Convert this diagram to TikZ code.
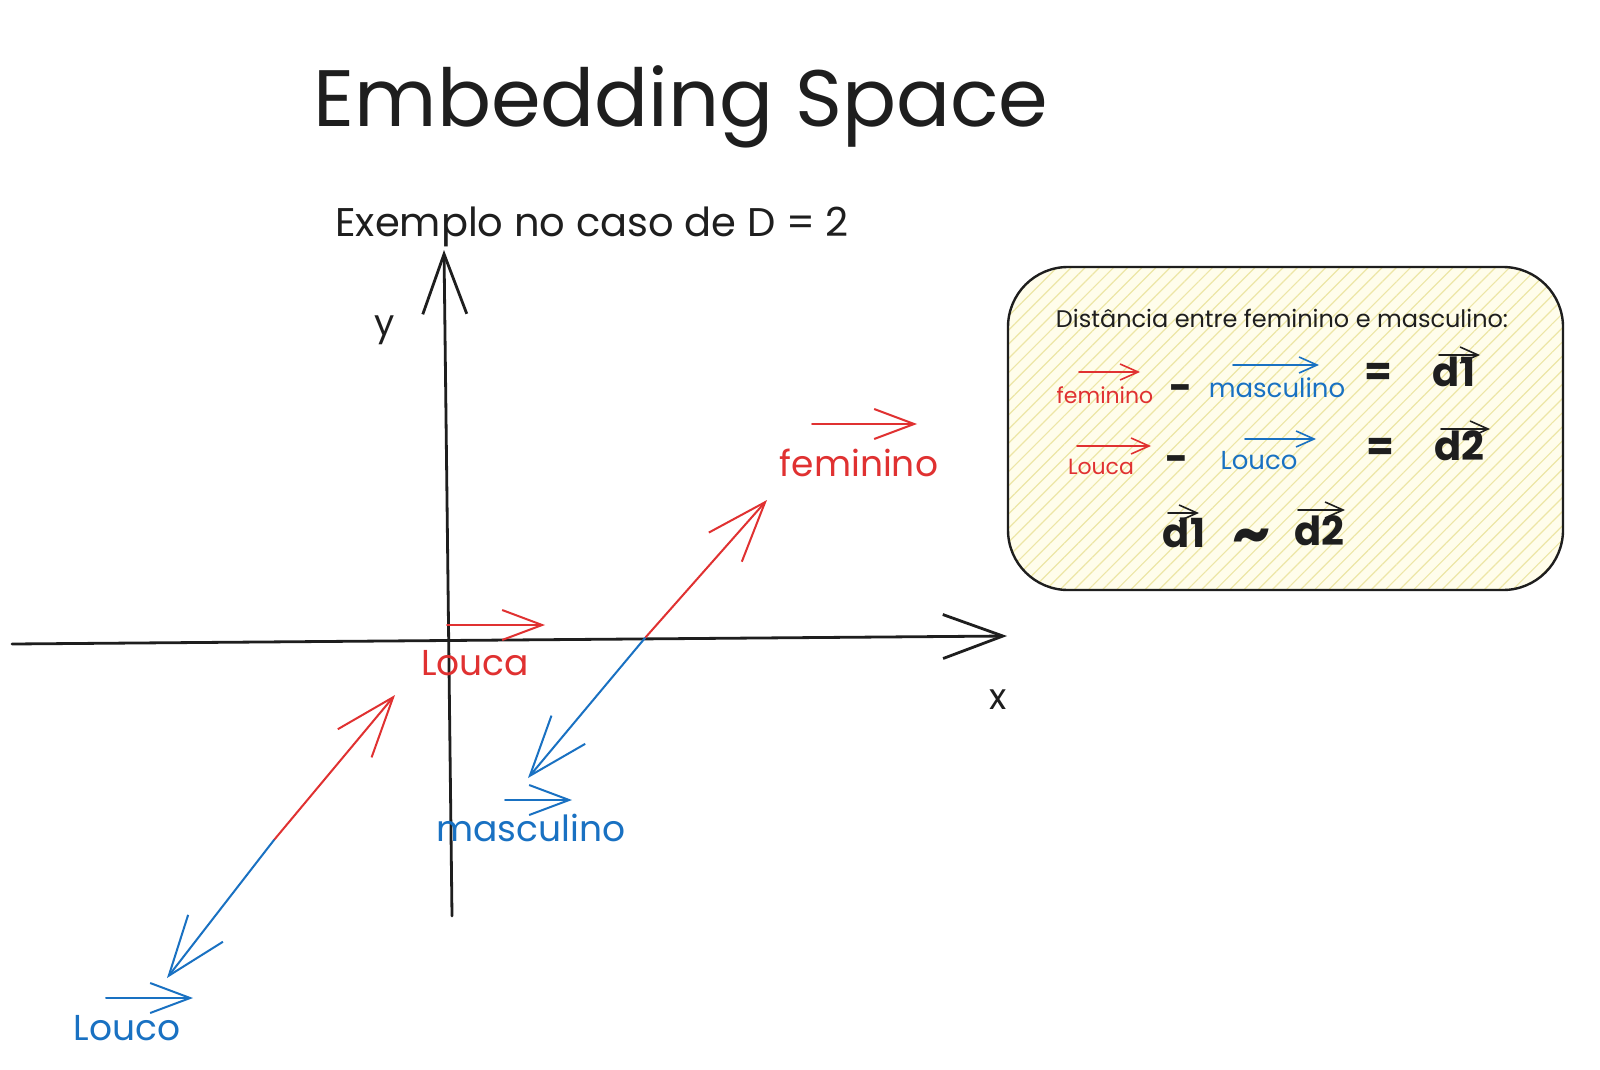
\documentclass[tikz,border=0pt]{standalone}
\usepackage{fontspec}
\setmainfont{Poppins}
\usetikzlibrary{arrows.meta, positioning, calc, patterns.meta}
\definecolor{exred}{HTML}{E03131}
\definecolor{exblue}{HTML}{1971C2}
\definecolor{exink}{HTML}{1E1E1E}
\definecolor{exfill}{HTML}{FFFDEB}
\definecolor{exhatch}{HTML}{EDE6A6}
\tikzset{
  >=Stealth,
  title/.style   = {font=\fontsize{40}{44}\selectfont, text=exink},
  subtitle/.style= {font=\fontsize{20}{24}\selectfont, text=exink},
  axlbl/.style   = {font=\fontsize{18}{20}\selectfont, text=exink},
  redlbl/.style  = {font=\fontsize{18}{20}\selectfont, text=exred},
  bluelbl/.style = {font=\fontsize{18}{20}\selectfont, text=exblue},
  smallred/.style  = {font=\fontsize{11}{13}\selectfont, text=exred},
  smallblue/.style = {font=\fontsize{13}{15}\selectfont, text=exblue},
  head/.style    = {font=\fontsize{12}{14}\selectfont, text=exink},
  sym/.style     = {font=\bfseries\fontsize{20}{22}\selectfont, text=exink},
  note/.style    = {draw=exink, line width=1.2pt, rounded corners=30pt,
                    minimum width=277.5pt, minimum height=161.5pt,
                    preaction={fill=exfill},
                    pattern={Lines[angle=45, distance=5pt, line width=0.6pt]},
                    pattern color=exhatch},
  axis/.style    = {exink, line width=1.4pt, line cap=round,
                    -{Straight Barb[length=30pt, width=22pt]}},
  redvec/.style  = {exred, line width=1pt, line cap=round,
                    -{Straight Barb[length=30pt, width=22pt]}},
  bluevec/.style = {exblue, line width=1pt, line cap=round,
                    -{Straight Barb[length=30pt, width=22pt]}},
  over/.style    = {line width=1pt, line cap=round,
                    -{Straight Barb[length=20pt, width=15pt]}},
  overs/.style   = {line width=0.8pt, line cap=round,
                    -{Straight Barb[length=9pt, width=8pt]}},
}
\begin{document}
\begin{tikzpicture}[x=0.5pt, y=-0.5pt,
  every node/.style = {inner sep=0pt}]
  \useasboundingbox[fill=white] (0,0) rectangle (1600,1070);

  % Titles
  \node[title]    (ttl) at (681,107) {Embedding Space};
  \node[subtitle] (sub) at (592,227) {Exemplo no caso de D = 2};

  % Axes
  \coordinate (xl) at (12,644);
  \coordinate (xr) at (1007,636);
  \coordinate (yb) at (452,916);
  \coordinate (yt) at (444,250);
  \draw[axis] (xl) -- (xr);
  \draw[axis] (yb) -- (yt);
  \node[axlbl] (ylbl) at (385,330) {y};
  \node[axlbl] (xlbl) at (998,700) {x};

  % Word vectors
  \coordinate (c1)  at (645,638);
  \coordinate (fem) at (767,500);
  \coordinate (mas) at (528,778);
  \coordinate (c2)  at (274,840);
  \coordinate (lca) at (395,695);
  \coordinate (lco) at (167,978);
  \draw[redvec]  (c1) -- (fem);
  \draw[bluevec] (c1) -- (mas);
  \draw[redvec]  (c2) -- (lca);
  \draw[bluevec] (c2) -- (lco);

  \node[redlbl]  (femlbl) at (859,463)  {feminino};
  \node[redlbl]  (lcalbl) at (475,663)  {Louca};
  \node[bluelbl] (maslbl) at (531,828)  {masculino};
  \node[bluelbl] (lcolbl) at (127,1028) {Louco};

  \foreach \n/\c/\a/\b/\h in {femlbl/exred/-47/58/-39, lcalbl/exred/-28/70/-38,
                              maslbl/exblue/-26/41/-28, lcolbl/exblue/-21/66/-30}
    \draw[over, \c] ($(\n)+(\a,\h)$) -- ($(\n)+(\b,\h)$);

  % Note box
  \node[note] (box) at (1285.5,428.5) {};
  \node[head] (hd) at (1282,318) {Distância entre feminino e masculino:};

  \node[smallred]  (f1) at (1105,395) {feminino};
  \node[sym]       (m1) at (1181,393) {-};
  \node[smallblue] (s1) at (1277,388) {masculino};
  \node[sym]       (e1) at (1378,374) {=};
  \node[sym]       (d1) at (1454,372) {d1};

  \node[smallred]  (l2) at (1101,467) {Louca};
  \node[sym]       (m2) at (1177,464) {-};
  \node[smallblue] (o2) at (1259,461) {Louco};
  \node[sym]       (e2) at (1380,449) {=};
  \node[sym]       (d2) at (1459,446) {d2};

  \node[sym] (d1b) at (1184,533) {d1};
  \node[sym, font=\bfseries\fontsize{30}{30}\selectfont] (tl) at (1252,542) {\textasciitilde};
  \node[sym] (d2b) at (1319,531) {d2};

  \foreach \n/\c/\a/\b/\h in {f1/exred/-26/35/-23, s1/exblue/-44/42/-23,
                              l2/exred/-24/50/-21, o2/exblue/-14/57/-22,
                              d1/exink/-15/26/-17, d2/exink/-18/31/-17,
                              d1b/exink/-16/15/-20, d2b/exink/-21/26/-21}
    \draw[overs, \c] ($(\n)+(\a,\h)$) -- ($(\n)+(\b,\h)$);
\end{tikzpicture}
\end{document}
